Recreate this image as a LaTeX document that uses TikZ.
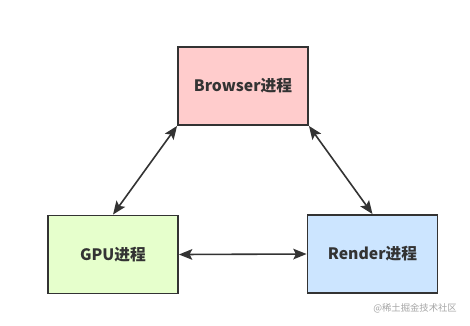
\documentclass[tikz,border=0pt]{standalone}
\usepackage{fontspec}
\setmainfont{Noto Sans CJK SC}
\usetikzlibrary{arrows.meta}
\begin{document}
\begin{tikzpicture}[x=0.75pt, y=-0.75pt]
    % Define colors
    \definecolor{browserred}{RGB}{255, 204, 204}
    \definecolor{gpugreen}{RGB}{230, 255, 204}
    \definecolor{renderblue}{RGB}{204, 229, 255}
    \definecolor{edgegray}{RGB}{51, 51, 51}

    \tikzset{
        procbox/.style={draw=edgegray, line width=1.4pt, minimum width=130*0.75pt,
            minimum height=78*0.75pt, inner sep=0pt, font=\bfseries\fontsize{11.8}{13}\selectfont,
            text=edgegray},
        link/.style={draw=edgegray, line width=1.2pt,
            {Stealth[length=10pt,width=8pt,inset=2pt]}-{Stealth[length=10pt,width=8pt,inset=2pt]}}
    }

    % Page area
    \useasboundingbox (0,0) rectangle (470,325);
    \fill[white] (0,0) rectangle (470,325);

    % Process boxes
    \node[procbox, fill=browserred] (browser) at (243,86) {Browser进程};
    \node[procbox, fill=gpugreen] (gpu) at (113,254.5) {GPU进程};
    \node[procbox, fill=renderblue] (render) at (372.5,254) {Render进程};

    % Connections
    \draw[link] (browser.south west) -- (gpu.north);
    \draw[link] (browser.south east) -- (render.north);
    \draw[link] (gpu.east) -- (render.west);

    % Watermark
    \node[text=gray!70, font=\fontsize{7}{8}\selectfont] (mark) at (415,308) {@稀土掘金技术社区};
\end{tikzpicture}
\end{document}
